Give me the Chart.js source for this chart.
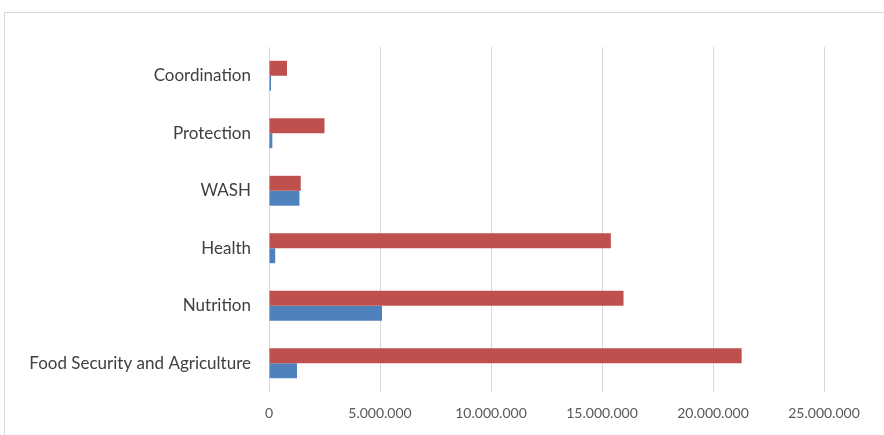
<!DOCTYPE html>
<html>
<head>
<meta charset="utf-8">
<script src="https://cdn.jsdelivr.net/npm/chart.js@4"></script>
<style>
    html, body { margin: 0; padding: 0; background: #fff; overflow: hidden; }
    #frame { position: absolute; left: 4px; top: 12px; width: 900px; height: 450px; border: 1px solid #d9d9d9; }
    #wrap { position: absolute; left: 0; top: 0; width: 884px; height: 435px; }
</style>
</head>
<body>
<div id="frame"></div>
<div id="wrap"><canvas id="grafico"></canvas></div>
<script>
// Categorías (de arriba hacia abajo)
const categorias = ['Coordination', 'Protection', 'WASH', 'Health', 'Nutrition', 'Food Security and Agriculture'];
// Serie roja
const serieRoja = [810000, 2500000, 1430000, 15400000, 15970000, 21290000];
// Serie azul
const serieAzul = [90000, 150000, 1370000, 280000, 5090000, 1260000];
// Marcas del eje x
const ejeMin = 0;
const ejeMax = 25000000;
const ejePaso = 5000000;

function formatoPuntos(v) {
    return String(v).replace(/\B(?=(\d{3})+(?!\d))/g, '.');
}

new Chart(document.getElementById('grafico'), {
    type: 'bar',
    data: {
        labels: categorias,
        datasets: [{
            label: 'Rojo',
            data: serieRoja,
            backgroundColor: '#C0504D',
            categoryPercentage: 0.52,
            barPercentage: 1
        }, {
            label: 'Azul',
            data: serieAzul,
            backgroundColor: '#4F81BD',
            categoryPercentage: 0.52,
            barPercentage: 1
        }]
    },
    options: {
        indexAxis: 'y',
        responsive: true,
        maintainAspectRatio: false,
        animation: false,
        layout: { padding: { top: 47, right: 60, bottom: 0, left: 0 } },
        plugins: { legend: { display: false }, tooltip: { enabled: false } },
        scales: {
            x: {
                min: ejeMin,
                max: ejeMax,
                border: { display: false },
                grid: { color: '#d9d9d9', lineWidth: 1, drawTicks: false },
                ticks: {
                    stepSize: ejePaso,
                    padding: 13,
                    color: '#595959',
                    font: { family: 'Lato', size: 14 },
                    maxRotation: 0,
                    callback: v => formatoPuntos(v)
                },
                afterFit: s => { s.height = 43; }
            },
            y: {
                border: { display: false },
                grid: { display: false },
                ticks: {
                    padding: 10,
                    color: '#404040',
                    font: { family: 'Lato', size: 17 }
                },
                afterFit: s => { s.width = 269; }
            }
        }
    }
});
</script>
</body>
</html>
